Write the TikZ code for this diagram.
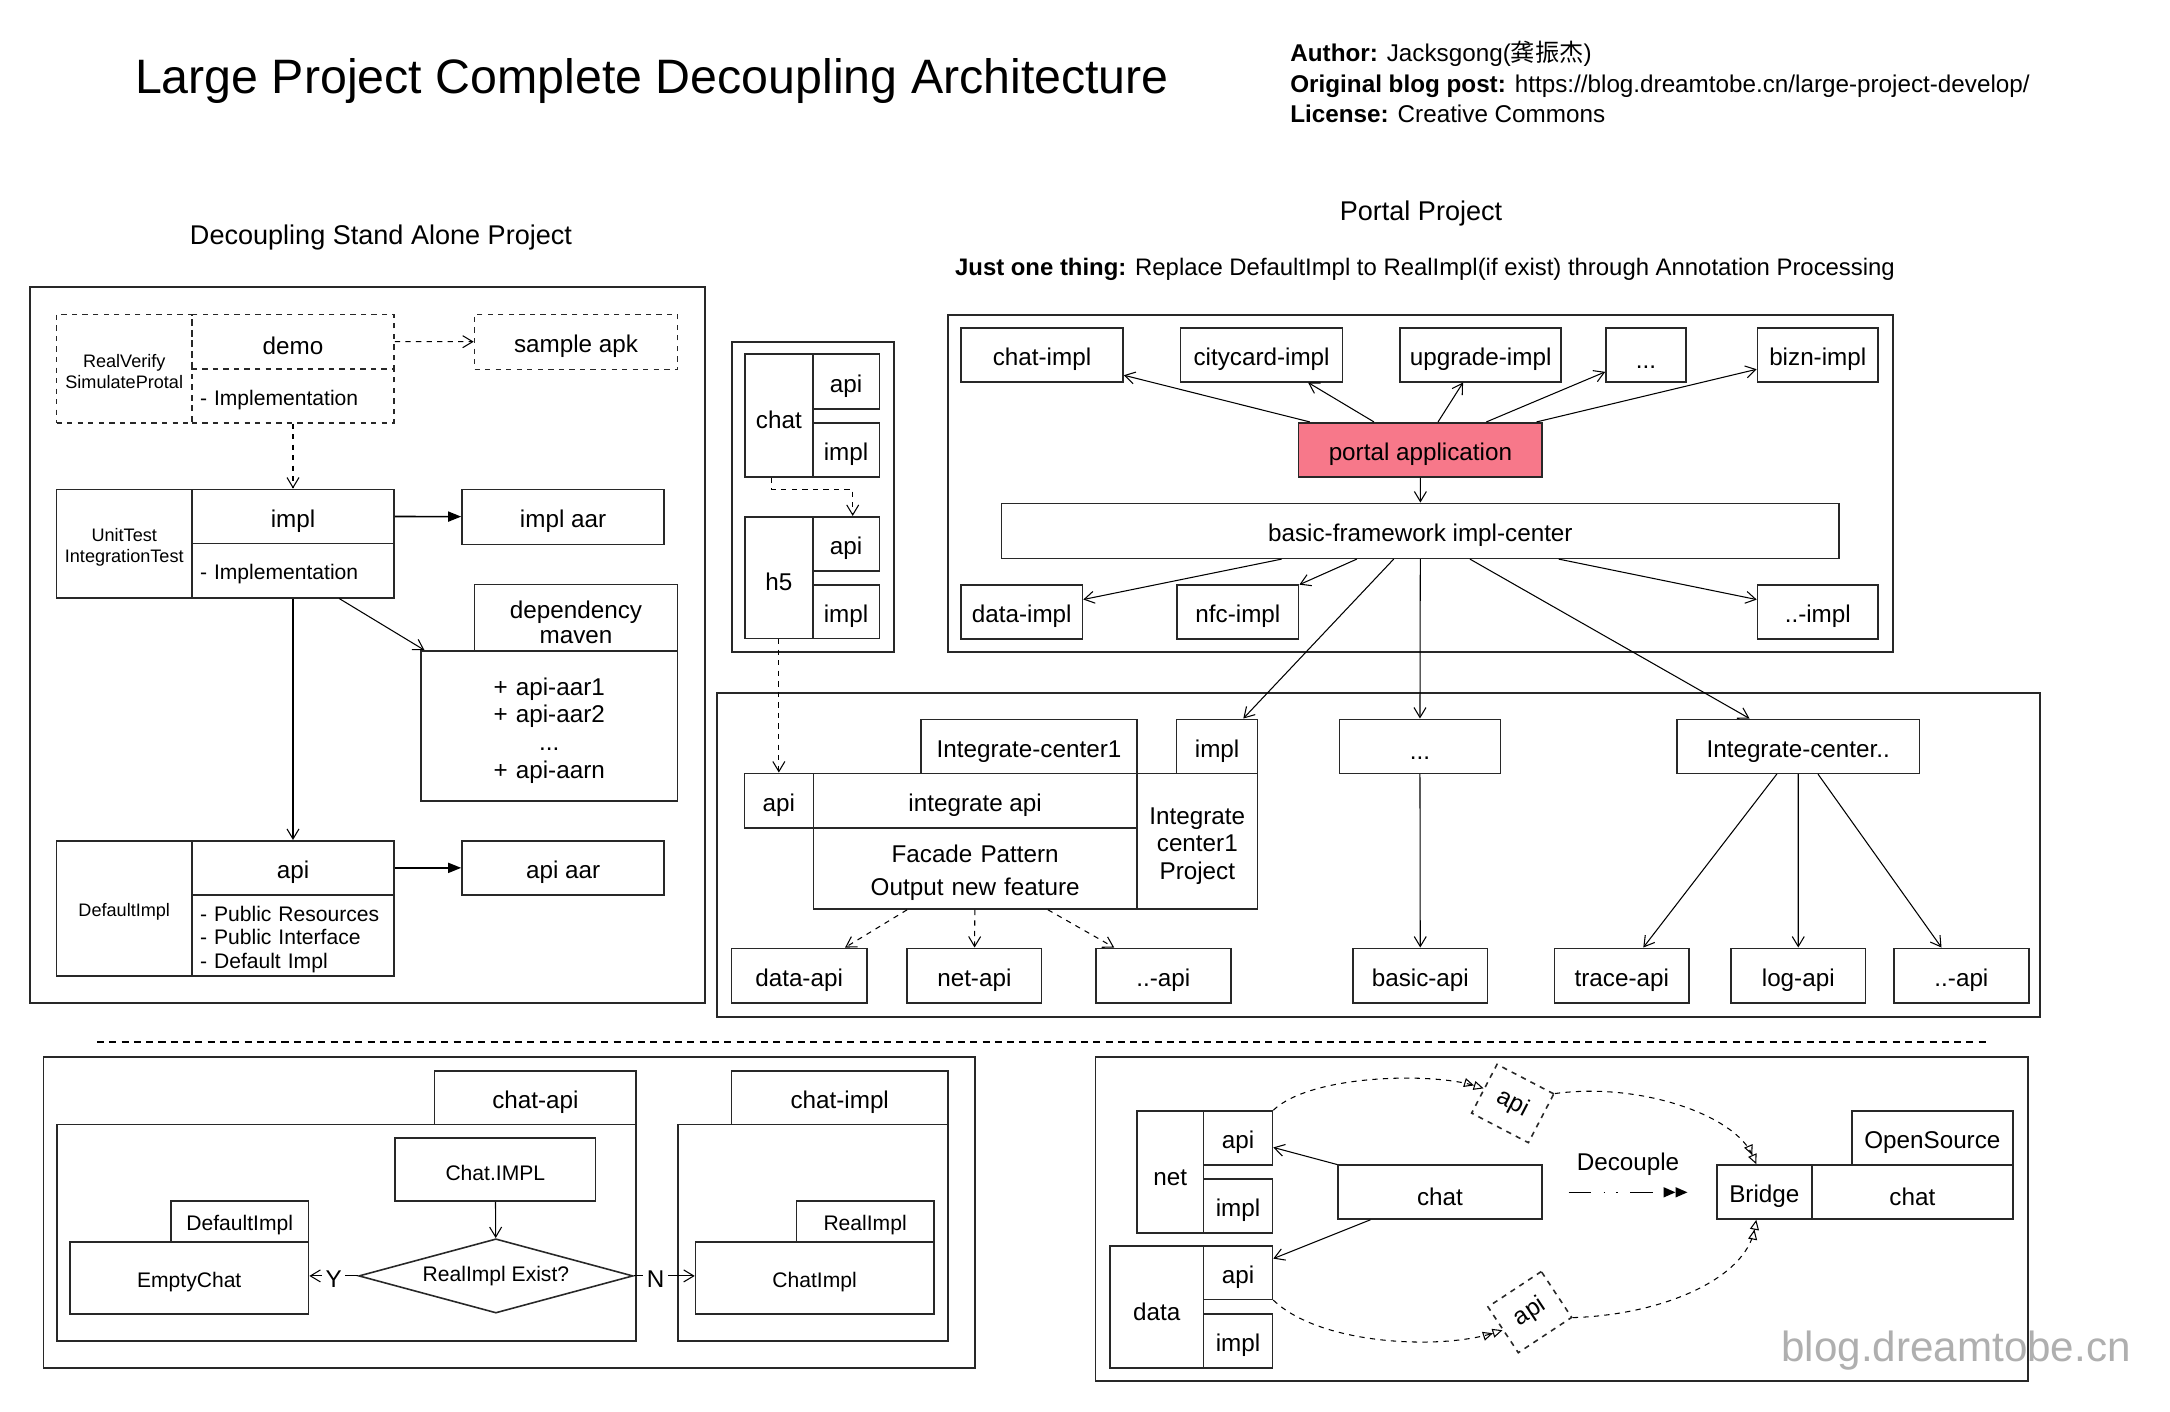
\documentclass[tikz,border=0pt]{standalone}
\usepackage{fontspec}
\setmainfont{Liberation Sans}
\newfontfamily\cjk{Noto Sans CJK SC}
\usetikzlibrary{calc,arrows.meta,shapes.geometric}
\definecolor{portalred}{RGB}{247,120,138}
\definecolor{inkgray}{RGB}{40,40,40}
\definecolor{markgray}{RGB}{175,175,175}
\newcommand\boxfont{\fontsize{13.8}{16}\selectfont}
\newcommand\smallfont{\fontsize{12}{13.6}\selectfont}
\newcommand\tinyfont{\fontsize{10.3}{12}\selectfont}
\newcommand\cell[7][]{\node[box,#1,minimum width={(#5-#3)*0.02cm},minimum height={(#6-#4)*0.02cm}] (#2) at ({(#3+#5)/2},{(#4+#6)/2}) {#7};}
\tikzset{
  box/.style={draw=inkgray, line width=0.9pt, inner sep=0pt, align=center, font=\boxfont, execute at begin node={\rule{0pt}{1.1em}}},
  smallbox/.style={font=\smallfont},
  tinybox/.style={font=\tinyfont, text width=2.6cm},
  notes/.style={align=left, text width=3.72cm, font=\smallfont},
  panel/.style={draw=inkgray, line width=1.1pt},
  link/.style={line width=0.6pt, -{Straight Barb[length=2mm,width=2.4mm]}},
  dlink/.style={link, dashed},
  solidlink/.style={line width=0.9pt, -{Triangle[length=2.6mm,width=2mm]}},
  hollowpair/.style={line width=0.6pt, dashed, -{Triangle[open,length=2mm,width=1.8mm] Triangle[open,length=2mm,width=1.8mm]}},
  decouple/.style={line width=0.9pt, dash pattern=on 13pt off 7pt on 1pt off 6pt on 1pt off 7pt, -{Triangle[length=2.4mm,width=2mm] Triangle[length=2.4mm,width=2mm]}},
  tilted/.style={draw=inkgray, dashed, line width=0.9pt, minimum width=1.28cm, minimum height=1.1cm, inner sep=0pt, font=\boxfont}
}

\begin{document}
\begin{tikzpicture}[x=0.02cm,y=-0.02cm]
\fill[white] (0,0) rectangle (2170,1411);
\useasboundingbox (0,0) rectangle (2170,1411);

\node[font=\fontsize{27.5}{33}\selectfont] (title) at (652,81) {Large Project Complete Decoupling Architecture};
\node[anchor=west, inner sep=0pt, align=left, font=\fontsize{13.8}{17.3}\selectfont] (credits) at (1290,82) {\textbf{Author:} Jacksgong({\cjk 龚振杰})\\\textbf{Original blog post:} https://blog.dreamtobe.cn/large-project-develop/\\\textbf{License:} Creative Commons};
\node[font=\fontsize{15.4}{18}\selectfont] (standalone) at (381,237) {Decoupling Stand Alone Project};
\node[font=\fontsize{15.4}{18}\selectfont] (portalhead) at (1421,213) {Portal Project};
\node[font=\fontsize{13.6}{16}\selectfont] (onething) at (1425,269) {\textbf{Just one thing:} Replace DefaultImpl to RealImpl(if exist) through Annotation Processing};

\draw[panel] (29.8,287.3) rectangle (705.3,1002.7);
\cell[tinybox,dashed]{verify}{56.6}{314.3}{191.9}{422.7}{RealVerify\\SimulateProtal}
\cell[dashed]{demo}{191.9}{314.3}{394.1}{368.7}{demo}
\cell[dashed,notes]{demoimpl}{191.9}{368.7}{394.1}{422.7}{- Implementation}
\cell[dashed]{sampleapk}{474.5}{314.3}{677.6}{369.3}{sample apk}
\cell[tinybox]{tests}{56.6}{489.3}{191.9}{597.7}{UnitTest\\IntegrationTest}
\cell{impl}{191.9}{489.3}{394.1}{543.3}{impl}
\cell[notes]{implbody}{191.9}{543.3}{394.1}{597.7}{- Implementation}
\cell{implaar}{462}{489.3}{664.2}{544.3}{impl aar}
\cell[text width=3.9cm, font=\fontsize{13.8}{14.5}\selectfont]{maven}{474.5}{584.3}{677.6}{651}{dependency\\maven}
\cell[text width=5cm, font=\fontsize{13.8}{15.7}\selectfont]{aarlist}{420.9}{651}{677.6}{800.7}{+ api-aar1\\+ api-aar2\\...\\+ api-aarn}
\cell[tinybox]{defimpl}{56.6}{840.7}{191.9}{976}{DefaultImpl}
\cell{api}{191.9}{840.7}{394.1}{895}{api}
\cell[notes]{apibody}{191.9}{895}{394.1}{976}{- Public Resources\\- Public Interface\\- Default Impl}
\cell{apiaar}{462}{840.7}{664.2}{895}{api aar}
\draw[dlink] (demo) -- (sampleapk);
\draw[dlink] (demoimpl) -- (impl);
\draw[solidlink] (impl) -- (implaar);
\draw[link] (implbody) -- (aarlist);
\draw[link] (implbody) -- (api);
\draw[solidlink] (api) -- (apiaar);

\draw[panel] (731.7,341.7) rectangle (894,651.7);
\cell{chat}{745}{354}{812.7}{476.7}{chat}
\cell{chatapi}{812.7}{354}{879.3}{409}{api}
\cell{chatimpl}{812.7}{422.7}{879.3}{476.7}{impl}
\cell{hfive}{745}{516.7}{812.7}{638.3}{h5}
\cell{hfiveapi}{812.7}{516.7}{879.3}{570.7}{api}
\cell{hfiveimpl}{812.7}{585}{879.3}{638.3}{impl}
\draw[dlink] ($(chat.south)+(-7,0)$) |- ($(hfiveapi.north)+(6.7,-26.7)$) -- ($(hfiveapi.north)+(6.7,0)$);

\draw[panel] (948.2,314.7) rectangle (1892.6,651.7);
\cell{chatimp}{961}{327.7}{1123}{381.7}{chat-impl}
\cell{citycard}{1180.6}{327.7}{1342.5}{381.7}{citycard-impl}
\cell{upgrade}{1400.2}{327.7}{1561.2}{381.7}{upgrade-impl}
\cell{moreimpl}{1606}{327.7}{1686}{381.7}{...}
\cell{bizn}{1757.5}{327.7}{1878}{381.7}{bizn-impl}
\cell[fill=portalred]{portal}{1298.6}{422.7}{1542.2}{476.7}{portal application}
\cell{implcenter}{1001.5}{503.3}{1839.2}{558.3}{basic-framework impl-center}
\cell{dataimpl}{961}{585}{1082.5}{639}{data-impl}
\cell{nfcimpl}{1177.2}{585}{1298.6}{639}{nfc-impl}
\cell{anyimpl}{1757.5}{585}{1878}{639}{..-impl}
\foreach \n in {chatimp,citycard,upgrade,moreimpl,bizn} \draw[link] (portal) -- (\n);
\draw[link] (portal) -- (implcenter);
\foreach \n in {dataimpl,nfcimpl,anyimpl} \draw[link] (implcenter) -- (\n);

\draw[panel] (716.9,692.7) rectangle (2040.2,1016.7);
\cell{icone}{921}{719.3}{1137}{773.3}{Integrate-center1}
\cell{iconeimpl}{1176.6}{719.3}{1257.6}{773.3}{impl}
\cell{iconeapi}{744.4}{773.3}{813.3}{827.7}{api}
\cell{integapi}{813.3}{773.3}{1137}{827.7}{integrate api}
\cell[text width=6.3cm, font=\fontsize{13.8}{18.7}\selectfont]{facade}{813.3}{827.7}{1137}{909}{Facade Pattern\\Output new feature}
\cell[text width=2.3cm, font=\fontsize{13.8}{15.6}\selectfont]{iconeproj}{1137}{773.3}{1257.6}{909}{Integrate\\center1\\Project}
\cell{midcenter}{1339.4}{719.3}{1500.4}{773.3}{...}
\cell{iclast}{1676.8}{719.3}{1919.6}{773.3}{Integrate-center..}
\cell{dataapi}{731.5}{948.3}{866.7}{1002.7}{data-api}
\cell{netapi}{907.2}{948.3}{1041.5}{1002.7}{net-api}
\cell{moreapi}{1095.7}{948.3}{1230.9}{1002.7}{..-api}
\cell{basicapi}{1353.1}{948.3}{1487.5}{1002.7}{basic-api}
\cell{traceapi}{1554.6}{948.3}{1688.9}{1002.7}{trace-api}
\cell{logapi}{1731.1}{948.3}{1865.4}{1002.7}{log-api}
\cell{lastapi}{1893.8}{948.3}{2029}{1002.7}{..-api}
\draw[dlink] (hfive) -- (iconeapi);
\foreach \n in {iconeimpl,midcenter,iclast} \draw[link] (implcenter) -- (\n);
\foreach \n in {dataapi,netapi,moreapi} \draw[dlink] (facade) -- (\n);
\draw[link] (midcenter) -- (basicapi);
\foreach \n in {traceapi,logapi,lastapi} \draw[link] (iclast) -- (\n);

\coordinate (sepleft) at (97,1042);
\coordinate (sepright) at (1989,1042);
\draw[line width=0.8pt, dash pattern=on 4pt off 3pt] (sepleft) -- (sepright);

\draw[panel] (43.5,1056.7) rectangle (974.7,1367.7);
\cell{apimodule}{56.9}{1124.3}{636.1}{1340.7}{}
\cell{apitab}{434.7}{1070.7}{636.1}{1124.3}{chat-api}
\cell{implmodule}{677.8}{1124.3}{947.8}{1340.7}{}
\cell{impltab}{731.6}{1070.7}{947.8}{1124.3}{chat-impl}
\cell[smallbox]{chatref}{394.9}{1137.7}{595.7}{1201}{Chat.IMPL}
\node[draw=inkgray, line width=0.9pt, diamond, aspect=3.7, inner sep=0pt, minimum width=5.486cm, minimum height=1.486cm, font=\smallfont] (exist) at (495.9,1275.9) {RealImpl Exist?};
\cell[smallbox]{defaulttab}{170.8}{1200.7}{308.6}{1242}{DefaultImpl}
\cell[smallbox]{emptychat}{69.8}{1242}{308.6}{1314}{EmptyChat}
\cell[smallbox]{realtab}{796.5}{1200.7}{933.7}{1242}{RealImpl}
\cell[smallbox]{chatimplcls}{695.5}{1242}{933.7}{1314}{ChatImpl}
\draw[link] (chatref) -- (exist);
\draw[link] (exist.west) -- (exist.west -| emptychat.east) node[midway, fill=white, inner sep=2pt, font=\boxfont, yshift=-2pt] (yes) {Y};
\draw[link] (exist.east) -- (exist.east -| chatimplcls.west) node[pos=0.36, fill=white, inner sep=2pt, font=\boxfont, yshift=-2pt] (no) {N};

\draw[panel] (1095.5,1056.7) rectangle (2028.1,1381);
\cell{net}{1136.8}{1111}{1203.6}{1233}{net}
\cell{netapi2}{1203.6}{1111}{1272.5}{1165}{api}
\cell{netimpl}{1203.6}{1179}{1272.5}{1233}{impl}
\cell{data}{1110}{1246}{1203.6}{1367.7}{data}
\cell{dataapi2}{1203.6}{1246}{1272.5}{1299.3}{api}
\cell{dataimpl2}{1203.6}{1314}{1272.5}{1367.7}{impl}
\cell{chatcore}{1338}{1165}{1541.8}{1219}{chat}
\cell{bridge}{1716.8}{1165}{1811.8}{1219}{Bridge}
\cell{chatopen}{1811.8}{1165}{2012.9}{1219}{chat}
\cell{opensource}{1851.8}{1111}{2012.9}{1165}{OpenSource}
\node[tilted, rotate=-27.5] (apiup) at (1512.7,1103.5) {api};
\node[tilted, rotate=33.5] (apidown) at (1529.8,1312.1) {api};
\draw[link] (chatcore) -- (netapi2);
\draw[link] (chatcore) -- (dataapi2);
\draw[hollowpair] (netapi2.north east) .. controls (1310,1075) and (1430,1072) .. (apiup.west);
\draw[hollowpair] (apiup.north east) .. controls (1640,1082) and (1735,1115) .. ($(bridge.north)+(-8,0)$);
\draw[hollowpair] (dataapi2.south east) .. controls (1320,1345) and (1440,1350) .. (apidown.west);
\draw[hollowpair] (apidown.south east) .. controls (1660,1315) and (1745,1280) .. ($(bridge.south)+(-8,0)$);
\coordinate (splitfrom) at (1568.5,1192.3);
\coordinate (splitto) at (1687.5,1192.3);
\draw[decouple] (splitfrom) -- (splitto);
\node[font=\boxfont] (decouplelabel) at (1628,1164) {Decouple};
\node[text=markgray, font=\fontsize{24}{28}\selectfont] (watermark) at (1956,1351) {blog.dreamtobe.cn};
\end{tikzpicture}
\end{document}
